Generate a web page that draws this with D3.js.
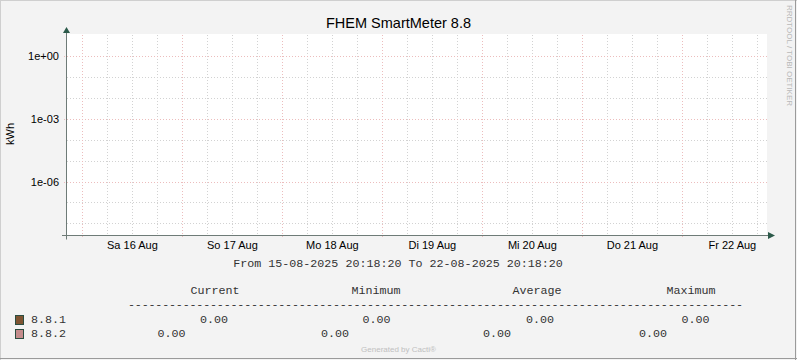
<!DOCTYPE html>
<html><head><meta charset="utf-8">
<script src="https://cdn.jsdelivr.net/npm/d3@7"></script>
<style>
html,body{margin:0;padding:0;background:#f3f3f3;}
svg{display:block;}
</style></head>
<body>
<svg id="c" width="797" height="360"></svg>
<script>
// ---- data ----
const title = "FHEM SmartMeter 8.8";
const yLabel = "kWh";
const timeStart = "2025-08-15 20:18:20";
const timeEnd = "2025-08-22 20:18:20";
const dayNames = ["So","Mo","Di","Mi","Do","Fr","Sa"];
const yDomain = [Math.pow(10,-8.58), 10];
const yMajorExponents = [0, -3, -6];
const seriesNames = ["8.8.1", "8.8.2"];
const seriesColors = ["#7f5432", "#c48c8c"];
const statHeaders = ["Current", "Minimum", "Average", "Maximum"];
const currentVals = [0.00, 0.00];
const minimumVals = [0.00, 0.00];
const averageVals = [0.00, 0.00];
const maximumVals = [0.00, 0.00];

// ---- drawing ----
const svg = d3.select("#c");
const W = 797, H = 360;
const parse = d3.utcParse("%Y-%m-%d %H:%M:%S");
const t0 = parse(timeStart), t1 = parse(timeEnd);
const X0 = 67, X1 = 767, Y0 = 235.5, Y1 = 35;
const x = d3.scaleUtc().domain([t0, t1]).range([X0, X1]);
const y = d3.scaleLog().domain(yDomain).range([Y0, Y1]);
const sans = "'Liberation Sans', Arial, sans-serif";
const mono = "'Liberation Mono', 'Courier New', monospace";
const monoSize = 11.7;

// background + 3D border
svg.append("rect").attr("x",0).attr("y",0).attr("width",W).attr("height",H).attr("fill","#f3f3f3");
svg.append("line").attr("x1",0).attr("y1",0.5).attr("x2",W).attr("y2",0.5).attr("stroke","#cfcfcf");
svg.append("line").attr("x1",0.5).attr("y1",0).attr("x2",0.5).attr("y2",H).attr("stroke","#cfcfcf");
svg.append("line").attr("x1",W-1.5).attr("y1",0).attr("x2",W-1.5).attr("y2",H).attr("stroke","#9a9a9a");
svg.append("line").attr("x1",0).attr("y1",H-1.5).attr("x2",W).attr("y2",H-1.5).attr("stroke","#9a9a9a");

// plot area
svg.append("rect").attr("x",X0).attr("y",Y1-1).attr("width",X1-X0).attr("height",Y0-Y1+1).attr("fill","#ffffff");

// vertical grid
const minorT = d3.utcHour.every(6).range(t0, t1);
const majorT = d3.utcDay.range(t0, t1);
const minorCol = "#d2d2d2", majorCol = "#ecbdbd", dash = "1,2";
const g = svg.append("g");
g.selectAll("line.vmin").data(minorT.filter(d => d.getUTCHours() !== 0)).join("line")
  .attr("x1", d => Math.round(x(d)) + 0.5).attr("x2", d => Math.round(x(d)) + 0.5)
  .attr("y1", Y1).attr("y2", Y0)
  .attr("stroke", minorCol).attr("stroke-dasharray", dash);
// horizontal grid (decades)
const decades = d3.range(-8, 1).map(e => Math.pow(10, e));
g.selectAll("line.hmin").data(decades.filter(d => !yMajorExponents.includes(Math.round(Math.log10(d))))).join("line")
  .attr("x1", X0).attr("x2", X1 + 2)
  .attr("y1", d => Math.round(y(d)) + 0.5).attr("y2", d => Math.round(y(d)) + 0.5)
  .attr("stroke", minorCol).attr("stroke-dasharray", dash);
// major grid
g.selectAll("line.vmaj").data(majorT).join("line")
  .attr("x1", d => Math.round(x(d)) + 0.5).attr("x2", d => Math.round(x(d)) + 0.5)
  .attr("y1", Y1).attr("y2", Y0 + 3)
  .attr("stroke", majorCol).attr("stroke-dasharray", dash);
g.selectAll("line.hmaj").data(yMajorExponents.map(e => Math.pow(10, e))).join("line")
  .attr("x1", X0 - 3).attr("x2", X1 + 2)
  .attr("y1", d => Math.round(y(d)) + 0.5).attr("y2", d => Math.round(y(d)) + 0.5)
  .attr("stroke", majorCol).attr("stroke-dasharray", dash);

// axes
const axisCol = "#6e7b77", arrowCol = "#2c5a4a";
svg.append("line").attr("x1", X0 - 5).attr("x2", X1 + 1).attr("y1", Y0).attr("y2", Y0).attr("stroke", axisCol).attr("stroke-width",1);
svg.append("line").attr("x1", X0 - 0.5).attr("x2", X0 - 0.5).attr("y1", 31).attr("y2", Y0 + 4).attr("stroke", axisCol).attr("stroke-width",1);
svg.append("path").attr("d", `M${X0-4},${33} L${X0-0.5},${27} L${X0+3},${33} Z`).attr("fill", arrowCol);
svg.append("path").attr("d", `M${X1+1},${Y0-3.5} L${X1+8},${Y0} L${X1+1},${Y0+3.5} Z`).attr("fill", arrowCol);

// y tick labels
const fmtExp = e => "1e" + (e >= 0 ? "+" : "-") + String(Math.abs(e)).padStart(2, "0");
svg.selectAll("text.yt").data(yMajorExponents).join("text")
  .attr("x", 59).attr("y", e => y(Math.pow(10, e)) + 4)
  .attr("text-anchor","end").attr("font-family", sans).attr("font-size", 11).attr("fill","#000")
  .text(e => fmtExp(e));

// x tick labels (at noon)
const noons = majorT.map(d => d3.utcHour.offset(d, 12)).filter(d => d < t1);
const fmtDay = d => dayNames[d.getUTCDay()] + " " + d.getUTCDate() + " " + d3.utcFormat("%b")(d);
svg.selectAll("text.xt").data(noons).join("text")
  .attr("x", d => x(d)).attr("y", 249)
  .attr("text-anchor","middle").attr("font-family", sans).attr("font-size", 11).attr("fill","#000")
  .text(fmtDay);

// title
svg.append("text").attr("x", 398.5).attr("y", 28).attr("text-anchor","middle")
  .attr("font-family", sans).attr("font-size", 14.5).attr("fill","#000").text(title);

// y label
svg.append("text").attr("transform","translate(14,134) rotate(-90)").attr("text-anchor","middle")
  .attr("font-family", sans).attr("font-size", 11).attr("fill","#000").text(yLabel);

// side watermark
svg.append("text").attr("transform","translate(786.5,5) rotate(90)").attr("text-anchor","start")
  .attr("font-family", sans).attr("font-size", 8).attr("fill","#b8b8b8").text("RRDTOOL / TOBI OETIKER");

// time range
const fmtR = d3.utcFormat("%d-%m-%Y %H:%M:%S");
svg.append("text").attr("x", 398).attr("y", 267).attr("text-anchor","middle")
  .attr("font-family", mono).attr("font-size", monoSize).attr("fill","#333")
  .text("From " + fmtR(t0) + " To " + fmtR(t1));

// legend header
const headerX = [215, 376, 537, 691];
svg.selectAll("text.hd").data(statHeaders).join("text")
  .attr("x", (d,i) => headerX[i]).attr("y", 294).attr("text-anchor","middle")
  .attr("font-family", mono).attr("font-size", monoSize).attr("fill","#333").text(d => d);
svg.append("text").attr("x", 128).attr("y", 307.5).attr("font-family", mono).attr("font-size", monoSize)
  .attr("fill","#333").attr("textLength", 615).attr("lengthAdjust","spacing").text("-".repeat(90));

// legend rows
const fmt2 = d3.format(".2f");
const rowY = [323, 337];
const valX = [[214, 376.5, 540, 695.5], [171.5, 335, 497, 653]];
seriesNames.forEach((name, i) => {
  svg.append("rect").attr("x", 15.5).attr("y", rowY[i] - 7.5).attr("width", 8).attr("height", 9)
    .attr("fill", seriesColors[i]).attr("stroke", "#2b4d40").attr("stroke-width", 1);
  svg.append("text").attr("x", 31).attr("y", rowY[i]).attr("font-family", mono).attr("font-size", monoSize)
    .attr("fill","#333").text(name);
  const vals = [currentVals[i], minimumVals[i], averageVals[i], maximumVals[i]];
  svg.selectAll(null).data(vals).join("text")
    .attr("x", (d,j) => valX[i][j]).attr("y", rowY[i]).attr("text-anchor","middle")
    .attr("font-family", mono).attr("font-size", monoSize).attr("fill","#333").text(fmt2);
});

// footer
svg.append("text").attr("x", 398.5).attr("y", 352).attr("text-anchor","middle")
  .attr("font-family", sans).attr("font-size", 8).attr("fill","#c0c0c0").text("Generated by Cacti®");
</script>
</body></html>
